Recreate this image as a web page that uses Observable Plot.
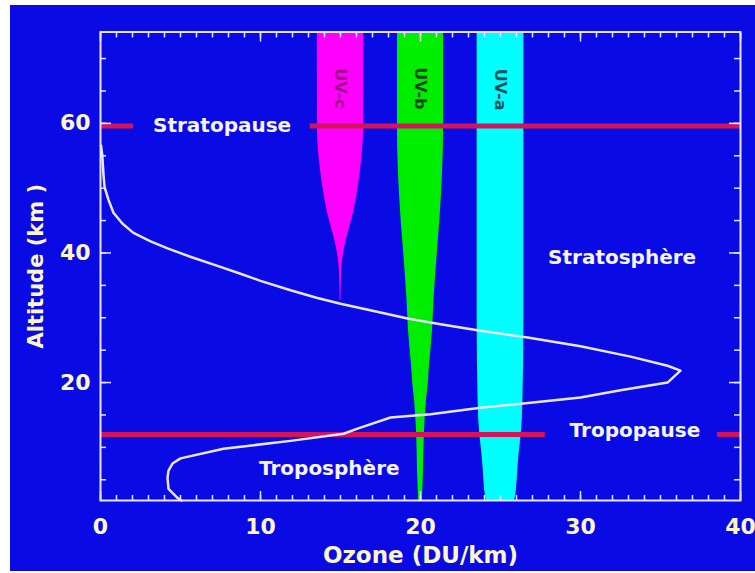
<!DOCTYPE html>
<html><head><meta charset="utf-8">
<script src="https://cdn.jsdelivr.net/npm/d3@7"></script>
<script src="https://cdn.jsdelivr.net/npm/@observablehq/plot@0.6"></script>
<style>
html,body{margin:0;padding:0;background:#fff;}
#chart{position:absolute;left:10px;top:5px;}
#chart svg{display:block;}
</style></head><body><div id="chart"></div>
<script>
// Ozone profile (DU/km vs altitude km)
const ozoneX   = [0.03,0.11,0.19,0.25,0.5,0.81,1.38,2.06,3.13,4.19,5.75,7.31,8.75,10.0,11.88,13.5,15.0,17.5,19.19,21.25,23.75,26.69,30.0,33.13,35.44,36.25,35.44,32.5,30.0,26.88,23.75,20.63,18.13,16.06,15.19,11.88,7.69,5.0,4.5,4.25,4.19,4.25,4.81,5.06];
const ozoneAlt = [56.6,55.1,52.0,50.2,48.2,46.2,44.5,43.1,41.8,40.7,39.3,38.0,36.8,35.7,34.25,33.1,32.15,30.8,29.9,29.0,28.0,26.95,25.6,24.0,22.6,21.85,20.0,18.8,17.7,16.9,16.1,15.1,14.6,12.9,12.1,11.0,9.8,8.3,7.5,6.4,5.3,3.6,2.2,1.8];

// UV bands: centre and half-width along altitude
const bandNames   = ["UV-c","UV-b","UV-a"];
const bandCenters = [15, 20, 25];
const uvcAlt  = [74.1,59,53.8,48.6,46.1,43.5,40.9,38.3,35.8,32.7];
const uvcHalf = [1.45,1.44,1.3,1.0,0.8,0.52,0.26,0.1,0.05,0.03];
const uvbAlt  = [74.1,58.9,48.6,38.3,33.1,28.0,22.3,19.5,17.2,12.1,6.9,1.8];
const uvbHalf = [1.44,1.44,1.3,1.0,0.85,0.75,0.55,0.47,0.37,0.24,0.19,0.12];
const uvaAlt  = [74.1,30,17.2,12.1,9.2,6.9,2.5,1.8];
const uvaHalf = [1.46,1.46,1.4,1.3,1.17,1.09,0.94,0.88];
const bandLabelAlt = [65.4, 65.4, 65.2];

// Pause levels (segments along x)
const pauseLevels = [59.6, 59.6, 12, 12];
const pauseX1     = [0, 13.1, 0, 38.56];
const pauseX2     = [2.06, 40, 27.8, 40];

// Region labels
const regionLabels = ["Stratopause","Stratosphère","Troposphère","Tropopause"];
const regionX      = [7.6, 32.6, 14.3, 33.4];
const regionY      = [59.7, 39.3, 6.7, 12.6];

// Axis ticks
const xMajor = [0,10,20,30,40];
const xMinor = d3.range(0, 41, 1);
const yMajor = [20,40,60];
const yMinor = d3.range(5, 75, 5);

const ozone = ozoneX.map((x,i)=>({x, alt: ozoneAlt[i]}));
const mkBand = (alts, halfs, c) => alts.map((a,i)=>({alt:a, x1:c-halfs[i], x2:c+halfs[i]}));
const uvc = mkBand(uvcAlt, uvcHalf, bandCenters[0]);
const uvb = mkBand(uvbAlt, uvbHalf, bandCenters[1]);
const uva = mkBand(uvaAlt, uvaHalf, bandCenters[2]);
const pauses = pauseLevels.map((y,i)=>({y, x1: pauseX1[i], x2: pauseX2[i]}));
const regions = regionLabels.map((t,i)=>({t, x: regionX[i], y: regionY[i]}));
const bandLbl = bandNames.map((t,i)=>({t, x: bandCenters[i], y: bandLabelAlt[i]}));

const bg = "#0a0ae4", lineCol = "#e6e6ff", labelCol = "#fcf6c4", red = "#d4145a";

const chart = Plot.plot({
  width: 745, height: 566,
  marginLeft: 90, marginRight: 15, marginTop: 26.5, marginBottom: 71,
  style: {background: bg, fontFamily: "DejaVu Sans", fontWeight: "bold", overflow: "visible"},
  x: {domain: [0, 40]},
  y: {domain: [1.8, 74.1]},
  marks: [
    Plot.areaX(uvc, {y: "alt", x1: "x1", x2: "x2", fill: "#ff00ff", curve: "monotone-y"}),
    Plot.areaX(uvb, {y: "alt", x1: "x1", x2: "x2", fill: "#00ee00", curve: "monotone-y"}),
    Plot.areaX(uva, {y: "alt", x1: "x1", x2: "x2", fill: "#00ffff", curve: "monotone-y"}),
    Plot.text(bandLbl, {x: "x", y: "y", text: "t", rotate: 90, fontSize: 16, fill: ["#a0108c","#0a4a0a","#10505a"]}),
    Plot.ruleY(pauses, {y: "y", x1: "x1", x2: "x2", stroke: red, strokeWidth: 5}),
    Plot.line(ozone, {x: "x", y: "alt", stroke: lineCol, strokeWidth: 2.5, strokeLinejoin: "round"}),
    Plot.frame({stroke: lineCol, strokeWidth: 2}),
    // ticks pointing inward
    Plot.axisX(xMinor, {anchor: "bottom", tickSize: -5, tickFormat: () => "", stroke: lineCol, strokeWidth: 1.5, label: null}),
    Plot.axisX(xMajor, {anchor: "bottom", tickSize: -9, tickFormat: () => "", stroke: lineCol, strokeWidth: 1.5, label: null}),
    Plot.axisX(xMinor, {anchor: "top", tickSize: -5, tickFormat: () => "", stroke: lineCol, strokeWidth: 1.5, label: null}),
    Plot.axisX(xMajor, {anchor: "top", tickSize: -9, tickFormat: () => "", stroke: lineCol, strokeWidth: 1.5, label: null}),
    Plot.axisY(yMinor, {anchor: "left", tickSize: -6, tickFormat: () => "", stroke: lineCol, strokeWidth: 1.5, label: null}),
    Plot.axisY(yMajor, {anchor: "left", tickSize: -11, tickFormat: () => "", stroke: lineCol, strokeWidth: 1.5, label: null}),
    Plot.axisY(yMinor, {anchor: "right", tickSize: -7, tickFormat: () => "", stroke: lineCol, strokeWidth: 1.5, label: null}),
    Plot.axisY(yMajor, {anchor: "right", tickSize: -12, tickFormat: () => "", stroke: lineCol, strokeWidth: 1.5, label: null}),
    // tick labels
    Plot.axisX(xMajor, {anchor: "bottom", tickSize: 0, tickPadding: 18, fill: labelCol, fontSize: 22, label: null}),
    Plot.axisY(yMajor, {anchor: "left", tickSize: 0, tickPadding: 10, fill: labelCol, fontSize: 22, label: null}),
    // axis titles
    Plot.text(["Altitude (km )"], {text: d => d, frameAnchor: "left", textAnchor: "middle", lineAnchor: "middle", dx: -64, rotate: -90, fontSize: 21, fill: labelCol}),
    Plot.text(["Ozone (DU/km)"], {text: d => d, frameAnchor: "bottom", textAnchor: "middle", lineAnchor: "middle", dy: 55, fontSize: 23, fill: labelCol}),
    // region labels
    Plot.text(regions, {x: "x", y: "y", text: "t", fontSize: 20, fill: "#f4f4ff"})
  ]
});
document.getElementById("chart").appendChild(chart);
</script>
</body></html>
